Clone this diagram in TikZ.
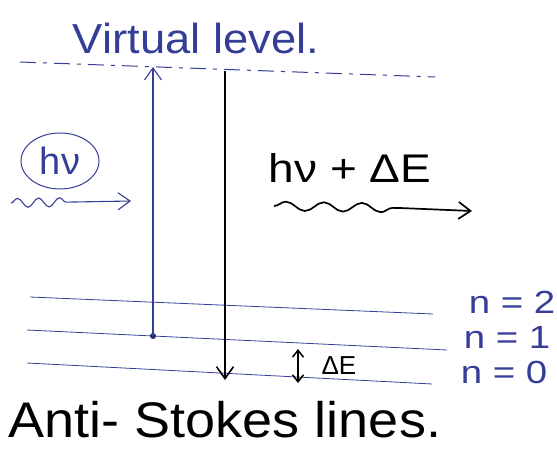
\documentclass[tikz,border=0pt]{standalone}
\usepackage{fontspec}
\setmainfont{Liberation Sans}
\usetikzlibrary{arrows.meta,decorations.pathmorphing,shapes.geometric}
\definecolor{ink}{RGB}{52,62,150}

\tikzset{
  level/.style={ink, line width=0.8pt},
  barb/.style={-{Straight Barb[length=12pt,width=17pt]}},
  photon/.style={decorate, decoration={snake, amplitude=4.5pt, segment length=#1}},
}

\begin{document}
\begin{tikzpicture}[x=1pt,y=-1pt]
        \useasboundingbox (0,0) rectangle (557,462);
        % Nivell virtual
        \coordinate (vL) at (20,62);
        \coordinate (vR) at (435,77);
        \draw[ink, line width=1pt, dash pattern=on 16pt off 7pt on 4pt off 7pt] (vL) -- (vR);
        \node[ink, font=\fontsize{42}{44}\selectfont, xscale=1.08] (virt) at (196,38) {Virtual level.};
        % Nivells n=2, n=1, n=0
        \coordinate (n2L) at (30,297);  \coordinate (n2R) at (433,314);
        \coordinate (n1L) at (27,330);  \coordinate (n1R) at (447,350);
        \coordinate (n0L) at (27,363);  \coordinate (n0R) at (432,384);
        \draw[level] (n2L) -- (n2R);
        \draw[level] (n1L) -- (n1R);
        \draw[level] (n0L) -- (n0R);
        \node[ink, font=\fontsize{32}{34}\selectfont, xscale=1.2] (lab2) at (512,302) {n = 2};
        \node[ink, font=\fontsize{32}{34}\selectfont, xscale=1.2] (lab1) at (507,337) {n = 1};
        \node[ink, font=\fontsize{32}{34}\selectfont, xscale=1.2] (lab0) at (504,372) {n = 0};
        % Excitacio i emissio
        \coordinate (up0) at (153,336);
        \coordinate (up1) at (153,67);
        \coordinate (dn0) at (225,71);
        \coordinate (dn1) at (225,380);
        \fill[ink!70!black] (up0) circle (3pt);
        \draw[ink, line width=1.1pt, barb] (up0) -- (up1);
        \draw[line width=1.6pt, barb] (dn0) -- (dn1);
        % Diferencia d'energia
        \coordinate (dE1) at (298,349);
        \coordinate (dE0) at (298,383);
        \draw[line width=1.5pt, {Straight Barb[length=7pt,width=11pt]}-{Straight Barb[length=7pt,width=11pt]}] (dE1) -- (dE0);
        \node[font=\fontsize{26}{28}\selectfont, anchor=west] (dE) at (318,366) {ΔE};
        % Foto incident
        \node[ink, draw, ellipse, line width=1pt, minimum width=78pt, minimum height=56pt, inner sep=0pt,
              font=\fontsize{38}{40}\selectfont] (hnu) at (60,161) {hν};
        \coordinate (inA) at (11,203);
        \coordinate (inM) at (75,202);
        \coordinate (inB) at (131,201);
        \draw[ink, line width=1.1pt, photon=21pt] (inA) -- (inM);
        \draw[ink, line width=1.1pt, barb] (inM) -- (inB);
        % Foto dispersat
        \node[font=\fontsize{40}{42}\selectfont, xscale=1.15] (hnuE) at (350,168) {hν + ΔE};
        \coordinate (outA) at (274,206);
        \coordinate (outM) at (400,208);
        \coordinate (outB) at (472,211);
        \draw[line width=1.7pt, photon=38pt] (outA) -- (outM);
        \draw[line width=1.7pt, barb] (outM) -- (outB);
        % Titol
        \node[font=\fontsize{50}{52}\selectfont, xscale=1.08] (anti) at (225,420) {Anti- Stokes lines.};
\end{tikzpicture}
\end{document}
